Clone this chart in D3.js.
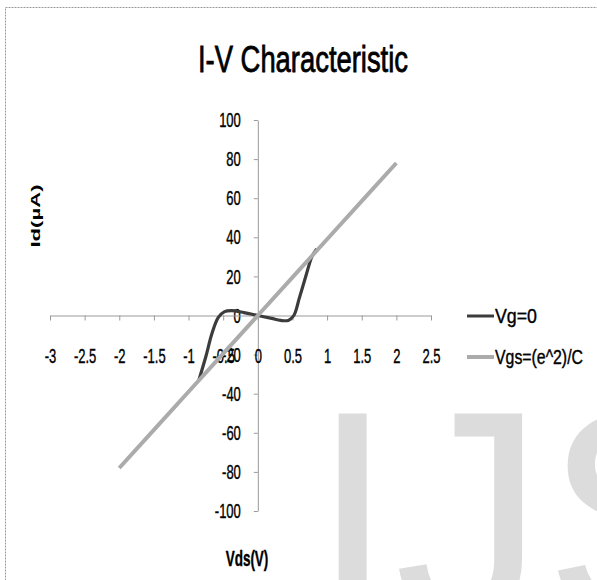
<!DOCTYPE html>
<html>
<head>
<meta charset="utf-8">
<script src="https://cdn.jsdelivr.net/npm/d3@7"></script>
<style>
  html, body { margin: 0; padding: 0; background: #fff; }
  svg { display: block; font-family: "Liberation Sans", Arial, sans-serif; }
</style>
</head>
<body>
<svg id="chart" width="597" height="580"></svg>
<script>
// data
var xTicks = [-3, -2.5, -2, -1.5, -1, -0.5, 0, 0.5, 1, 1.5, 2, 2.5];
var yTicks = [-100, -80, -60, -40, -20, 0, 20, 40, 60, 80, 100];

// Vg=0 (dark, smoothed)
var vgVds = [-0.85, -0.75, -0.66, -0.57, -0.48, -0.38, -0.2, 0, 0.2, 0.33, 0.44, 0.52, 0.6, 0.7, 0.78, 0.85];
var vgId  = [-33, -21, -9, -1, 2, 2.5, 1.5, 0, -1.5, -2.5, -2.5, 0, 9, 21, 30, 34];

// Vgs=(e^2)/C (light, straight)
var vgsVds = [-2, -1.5, -1, -0.5, 0, 0.5, 1, 1.5, 2];
var vgsId  = [-78, -58.5, -39, -19.5, 0, 19.5, 39, 58.5, 78];

var seriesNames = ["Vg=0", "Vgs=(e^2)/C"];
var seriesColors = ["#3c3c3c", "#ababab"];

var svg = d3.select("#chart");

// watermark
svg.append("text")
    .attr("x", 311)
    .attr("y", 620)
    .style("font-size", "300px")
    .style("fill", "#dcdcdc")
    .text("IJS");

// frame
svg.append("rect")
    .attr("x", 5.5)
    .attr("y", 7.5)
    .attr("width", 600)
    .attr("height", 600)
    .style("fill", "none")
    .style("stroke", "#9a9a9a")
    .style("stroke-dasharray", "2,1");

var x = d3.scaleLinear().domain([-3, 2.5]).range([50, 431]);
var y = d3.scaleLinear().domain([-100, 100]).range([511, 120]);

// stretched text helper (the picture is squeezed sideways)
function label(x0, y0, txt, size, sy, opts) {
  opts = opts || {};
  var t = svg.append("text")
      .attr("transform", "translate(" + x0 + "," + y0 + ") scale(1," + sy + ")")
      .style("font-size", size + "px")
      .style("font-weight", opts.weight || "normal")
      .style("text-anchor", opts.anchor || "start")
      .style("fill", "#000")
      .style("stroke", "#000")
      .style("stroke-width", opts.sw || 0.25)
      .text(txt);
  if (opts.len) {
    t.attr("textLength", opts.len).attr("lengthAdjust", "spacingAndGlyphs");
  }
  return t;
}

// title
label(303, 72, "I-V Characteristic", 27.4, 1.38, { anchor: "middle", len: 210, sw: 0.6 });

// y axis
var yAxis = svg.append("g")
    .attr("transform", "translate(" + x(0) + ",0)")
    .call(d3.axisLeft(y).tickValues(yTicks).tickSize(4).tickSizeOuter(0)
      .tickFormat(function(d) { return d; }));

yAxis.selectAll("text")
    .attr("x", -17)
    .attr("transform", "scale(1,1.6)")
    .style("font-size", "13px")
    .style("font-family", "'Liberation Sans', Arial, sans-serif")
    .style("fill", "#000")
    .style("stroke", "#000")
    .style("stroke-width", 0.25);

// x axis
var xAxis = svg.append("g")
    .attr("transform", "translate(0," + y(0) + ")")
    .call(d3.axisBottom(x).tickValues(xTicks).tickSize(5).tickSizeOuter(0)
      .tickFormat(function(d) { return d; }));

xAxis.selectAll("text")
    .attr("y", 29.5)
    .attr("dy", 0)
    .attr("transform", "scale(1,1.6)")
    .style("font-size", "13px")
    .style("font-family", "'Liberation Sans', Arial, sans-serif")
    .style("fill", "#000")
    .style("stroke", "#000")
    .style("stroke-width", 0.25);

svg.selectAll(".domain, .tick line")
    .style("stroke", "#9a9a9a");

// axis titles
svg.append("text")
    .attr("transform", "translate(40,216) rotate(-90) scale(1.7,1)")
    .style("font-size", "13px")
    .style("font-weight", "bold")
    .style("text-anchor", "middle")
    .text("Id(µA)");

label(247, 566, "Vds(V)", 13.5, 1.6, { anchor: "middle", weight: "bold", sw: 0 });

// lines
var smooth = d3.line()
    .x(function(d) { return x(d[0]); })
    .y(function(d) { return y(d[1]); })
    .curve(d3.curveCatmullRom.alpha(0.5));

var straight = d3.line()
    .x(function(d) { return x(d[0]); })
    .y(function(d) { return y(d[1]); });

svg.append("path")
    .datum(d3.zip(vgVds, vgId))
    .attr("d", smooth)
    .style("fill", "none")
    .style("stroke", seriesColors[0])
    .style("stroke-width", 3.2);

svg.append("path")
    .datum(d3.zip(vgsVds, vgsId))
    .attr("d", straight)
    .style("fill", "none")
    .style("stroke", seriesColors[1])
    .style("stroke-width", 4);

// legend
var legendY = [316, 357];
var legendLen = [42, 88];
seriesNames.forEach(function(name, i) {
  svg.append("line")
      .attr("x1", 467)
      .attr("x2", 494)
      .attr("y1", legendY[i])
      .attr("y2", legendY[i])
      .style("stroke", seriesColors[i])
      .style("stroke-width", i === 0 ? 3 : 4);
  label(495, legendY[i] + 7, name, 13, 1.55, { len: legendLen[i] });
});
</script>
</body>
</html>
